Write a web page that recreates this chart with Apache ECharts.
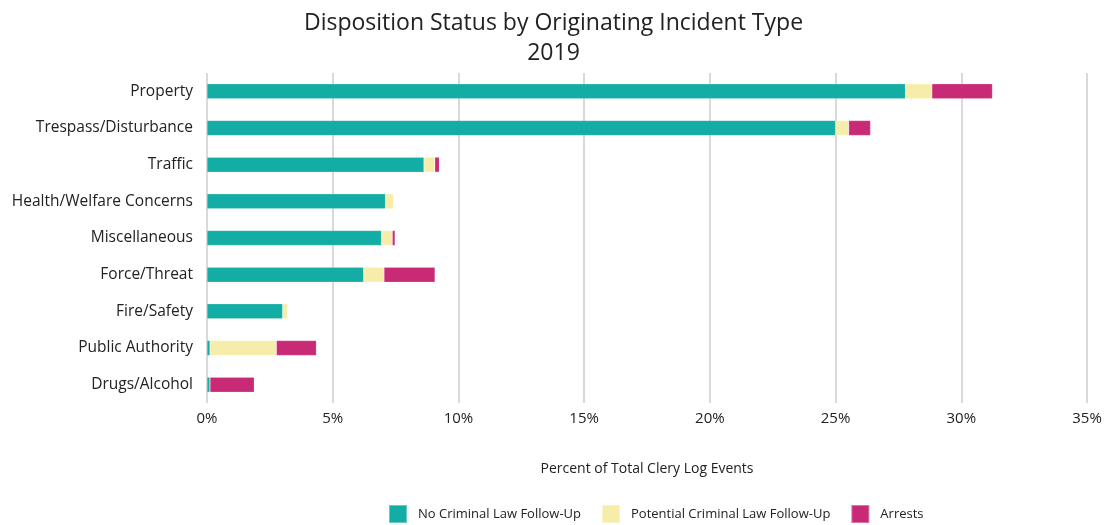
<!DOCTYPE html>
<html><head><meta charset="utf-8">
<script src="https://cdn.jsdelivr.net/npm/echarts@6/dist/echarts.min.js"></script>
<style>html,body{margin:0;padding:0;background:#fff}#c{width:1107px;height:525px}</style>
</head><body><div id="c"></div>
<script>
const categories = ["Property","Trespass/Disturbance","Traffic","Health/Welfare Concerns","Miscellaneous","Force/Threat","Fire/Safety","Public Authority","Drugs/Alcohol"];
const noFollowUp = [27.78, 25.0, 8.63, 7.10, 6.94, 6.23, 3.01, 0.12, 0.12];
const potentialFollowUp = [1.05, 0.52, 0.43, 0.32, 0.43, 0.81, 0.20, 2.64, 0];
const arrests = [2.41, 0.87, 0.18, 0, 0.11, 2.03, 0, 1.59, 1.76];
const xTicks = [0, 5, 10, 15, 20, 25, 30, 35];

const font = "'Open Sans', 'Noto Sans', sans-serif";
const chart = echarts.init(document.getElementById('c'));
const mk = (name, data, color) => ({
  name, type: 'bar', stack: 'total', data, barWidth: 15,
  itemStyle: { color, borderColor: 'rgba(255,255,255,0.35)', borderWidth: 0.5 }
});
chart.setOption({
  animation: false,
  textStyle: { fontFamily: font },
  title: {
    text: 'Disposition Status by Originating Incident Type\n2019',
    left: 'center', top: 3,
    textStyle: { fontFamily: font, fontSize: 23, fontWeight: 'normal', color: '#222', lineHeight: 30 }
  },
  legend: {
    top: 499, left: 383, itemWidth: 18, itemHeight: 18, itemGap: 20,
    icon: 'rect',
    textStyle: { fontFamily: font, fontSize: 13, color: '#222', padding: [0, 0, 0, 6] },
    data: ['No Criminal Law Follow-Up', 'Potential Criminal Law Follow-Up', 'Arrests']
  },
  grid: { left: 207, right: 20, top: 73, bottom: 122, containLabel: false },
  xAxis: {
    type: 'value', min: xTicks[0], max: xTicks[xTicks.length - 1], interval: 5,
    axisLine: { show: false }, axisTick: { show: false },
    splitLine: { lineStyle: { color: '#d9d9d9', width: 2 } },
    axisLabel: { formatter: v => v + '%', fontSize: 15, color: '#222', margin: 8, fontFamily: font },
    name: 'Percent of Total Clery Log Events', nameLocation: 'middle', nameGap: 59,
    nameTextStyle: { fontSize: 14, color: '#222', fontFamily: font }
  },
  yAxis: {
    type: 'category', data: categories, inverse: true,
    axisLine: { show: false }, axisTick: { show: false },
    axisLabel: { fontSize: 15.5, color: '#222', margin: 14, fontFamily: font }
  },
  series: [
    mk('No Criminal Law Follow-Up', noFollowUp, '#14ADA5'),
    mk('Potential Criminal Law Follow-Up', potentialFollowUp, '#F7EDAA'),
    mk('Arrests', arrests, '#C92A75')
  ]
});
</script></body></html>
